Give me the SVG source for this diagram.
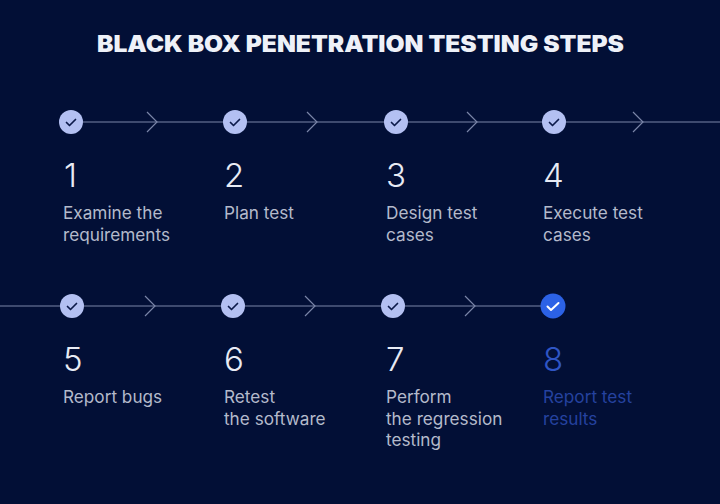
<svg xmlns="http://www.w3.org/2000/svg" width="720" height="504" viewBox="0 0 720 504">
<defs>
<style>
.t{font-family:Inter,"Liberation Sans",sans-serif}
.title{font-size:22.500px;font-weight:900;fill:#eef1f8}
.n{font-size:33px;font-weight:300;fill:#e8ebf4}
.d{font-size:17.200px;fill:#b4bacb}
.bn{fill:#2f55c4}
.bd{fill:#25429f}
.c{fill:#b3c0f2}
.cb{fill:#2c62e6}
.k{fill:none;stroke:#0c1a4a;stroke-width:1.700;stroke-linecap:round;stroke-linejoin:round}
.kw{fill:none;stroke:#fff;stroke-width:2;stroke-linecap:round;stroke-linejoin:round}
.l{fill:none;stroke:#7a85a8;stroke-width:1.200}
</style>
</defs>
<rect width="720" height="504" fill="#020f36"/>
<text class="t title" x="97" y="52" textLength="527" lengthAdjust="spacingAndGlyphs">BLACK BOX PENETRATION TESTING STEPS</text>
<g id="connectors">
<path class="l" d="M71 122H720M0 306H553"/>
<path class="l" d="M147 112l10 10l-10 10M307 112l10 10l-10 10M467 112l10 10l-10 10M633 112l10 10l-10 10M145 296l10 10l-10 10M305 296l10 10l-10 10M465 296l10 10l-10 10"/>
</g>
<g id="node1"><circle class="c" cx="71" cy="122" r="12"/><path class="k" d="M66.500 122.500l3 3l6-6"/><text class="t n" x="64" y="187">1</text><text class="t d" x="63" y="219">Examine the</text><text class="t d" x="63" y="240.500">requirements</text></g>
<g id="node2"><circle class="c" cx="235" cy="122" r="12"/><path class="k" d="M230.500 122.500l3 3l6-6"/><text class="t n" x="224" y="187">2</text><text class="t d" x="224" y="219">Plan test</text></g>
<g id="node3"><circle class="c" cx="396" cy="122" r="12"/><path class="k" d="M391.500 122.500l3 3l6-6"/><text class="t n" x="386" y="187">3</text><text class="t d" x="386" y="219">Design test</text><text class="t d" x="386" y="240.500">cases</text></g>
<g id="node4"><circle class="c" cx="554" cy="122" r="12"/><path class="k" d="M549.500 122.500l3 3l6-6"/><text class="t n" x="543" y="187">4</text><text class="t d" x="543" y="219">Execute test</text><text class="t d" x="543" y="240.500">cases</text></g>
<g id="node5"><circle class="c" cx="72" cy="306" r="12"/><path class="k" d="M67.500 306.500l3 3l6-6"/><text class="t n" x="63" y="371">5</text><text class="t d" x="63" y="403">Report bugs</text></g>
<g id="node6"><circle class="c" cx="233" cy="306" r="12"/><path class="k" d="M228.500 306.500l3 3l6-6"/><text class="t n" x="224" y="371">6</text><text class="t d" x="224" y="403">Retest</text><text class="t d" x="224" y="424.500">the software</text></g>
<g id="node7"><circle class="c" cx="393" cy="306" r="12"/><path class="k" d="M388.500 306.500l3 3l6-6"/><text class="t n" x="386" y="371">7</text><text class="t d" x="386" y="403">Perform</text><text class="t d" x="386" y="424.500">the regression</text><text class="t d" x="386" y="446">testing</text></g>
<g id="node8"><circle class="cb" cx="553" cy="306" r="12.500"/><path class="kw" d="M547.500 306.500l3.500 3.500l7.500-7"/><text class="t n bn" x="543" y="371">8</text><text class="t d bd" x="543" y="403">Report test</text><text class="t d bd" x="543" y="424.500">results</text></g>
</svg>
